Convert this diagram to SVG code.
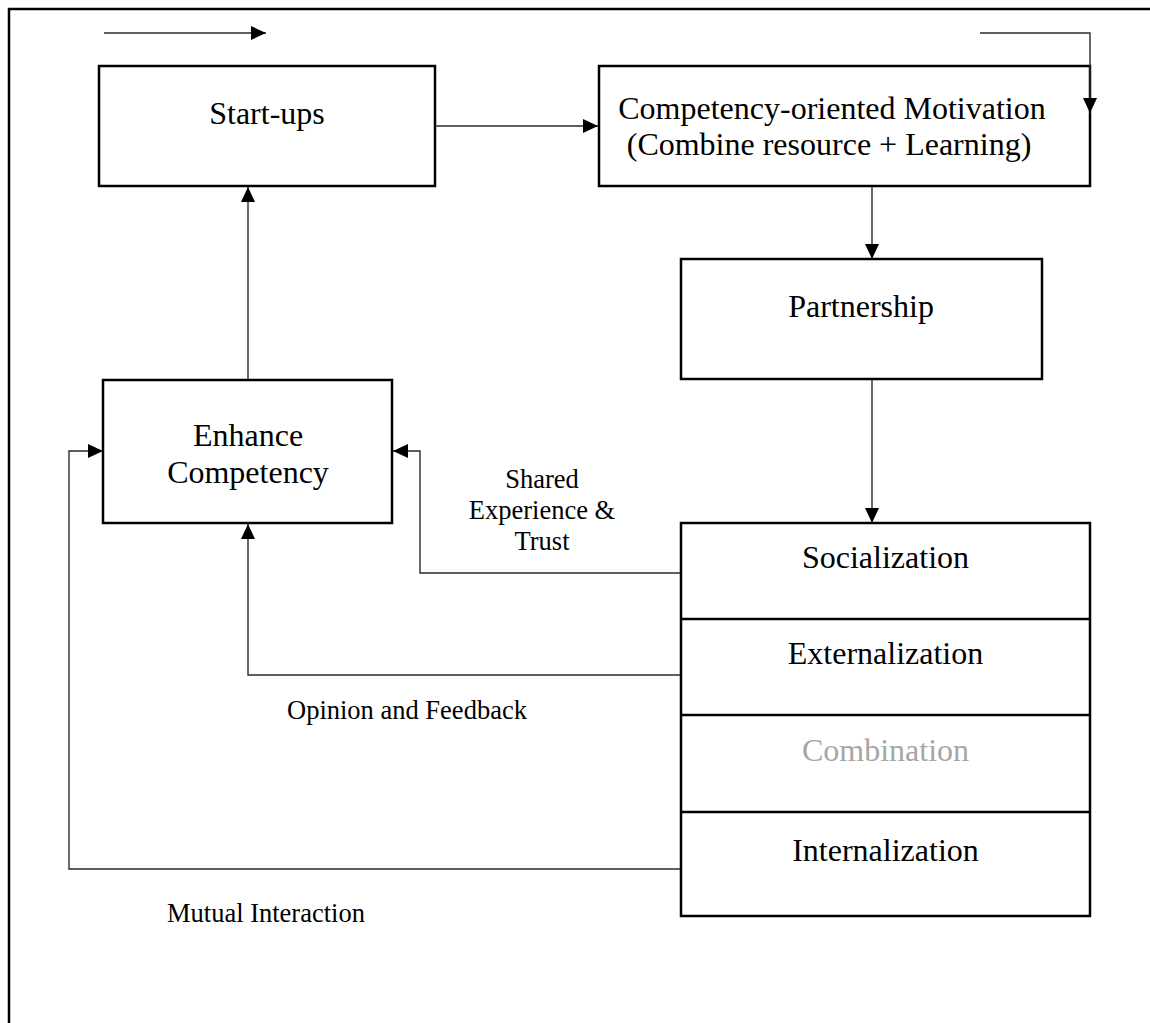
<svg xmlns="http://www.w3.org/2000/svg" width="1150" height="1023" viewBox="0 0 1150 1023">
  <style>
    .box { fill: #ffffff; stroke: #000000; stroke-width: 2.5; }
    .div { fill: none; stroke: #000000; stroke-width: 2.5; }
    .frame { fill: none; stroke: #000000; stroke-width: 2.5; }
    .link { fill: none; stroke: #2a2a2a; stroke-width: 1.4; }
    .big { font-family: "Liberation Serif", "Times New Roman", serif; font-size: 32px; fill: #000000; text-anchor: middle; }
    .small { font-family: "Liberation Serif", "Times New Roman", serif; font-size: 26.5px; fill: #000000; }
    .muted { fill: #a6a6a6; }
  </style>
  <defs>
    <marker id="head" markerUnits="userSpaceOnUse" markerWidth="16" markerHeight="14" refX="15" refY="7" orient="auto">
      <path d="M0,0 L15,7 L0,14 z" fill="#000000"/>
    </marker>
  </defs>

  <rect width="1150" height="1023" fill="#ffffff"/>

  <!-- page frame -->
  <path class="frame" d="M9,1023 L9,9 L1150,9"/>

  <g id="startups">
    <rect class="box" x="99" y="66" width="336" height="120"/>
    <text class="big" x="267" y="124">Start-ups</text>
  </g>

  <g id="motivation">
    <rect class="box" x="599" y="66" width="491" height="120"/>
    <text class="big" x="832" y="119">Competency-oriented Motivation</text>
    <text class="big" x="829" y="155">(Combine resource + Learning)</text>
  </g>

  <g id="partnership">
    <rect class="box" x="681" y="259" width="361" height="120"/>
    <text class="big" x="861" y="317">Partnership</text>
  </g>

  <g id="enhance">
    <rect class="box" x="103" y="380" width="289" height="143"/>
    <text class="big" x="248" y="446">Enhance</text>
    <text class="big" x="248" y="483">Competency</text>
  </g>

  <g id="seci">
    <rect class="box" x="681" y="523" width="409" height="393"/>
    <line class="div" x1="681" y1="619" x2="1090" y2="619"/>
    <line class="div" x1="681" y1="715" x2="1090" y2="715"/>
    <line class="div" x1="681" y1="812" x2="1090" y2="812"/>
    <text class="big" x="885.5" y="568">Socialization</text>
    <text class="big" x="885.5" y="664">Externalization</text>
    <text class="big muted" x="885.5" y="761">Combination</text>
    <text class="big" x="885.5" y="861">Internalization</text>
  </g>

  <!-- connectors, drawn over the box edges so every arrowhead shows -->
  <g id="connectors">
    <line class="link" x1="104" y1="33" x2="266" y2="33" marker-end="url(#head)"/>
    <path class="link" d="M980,33 L1090,33 L1090,113" marker-end="url(#head)"/>
    <line class="link" x1="435" y1="126" x2="598" y2="126" marker-end="url(#head)"/>
    <line class="link" x1="872" y1="187" x2="872" y2="259" marker-end="url(#head)"/>
    <line class="link" x1="872" y1="380" x2="872" y2="523" marker-end="url(#head)"/>
    <line class="link" x1="248" y1="379" x2="248" y2="187" marker-end="url(#head)"/>
    <path class="link" d="M680,573 L420,573 L420,451 L393,451" marker-end="url(#head)"/>
    <path class="link" d="M680,675 L248,675 L248,524" marker-end="url(#head)"/>
    <path class="link" d="M680,869 L69,869 L69,451 L103,451" marker-end="url(#head)"/>
  </g>

  <g id="labels">
    <text class="small" x="542" y="488" text-anchor="middle">Shared</text>
    <text class="small" x="542" y="519" text-anchor="middle">Experience &amp;</text>
    <text class="small" x="542" y="550" text-anchor="middle">Trust</text>
    <text class="small" x="287" y="719">Opinion and Feedback</text>
    <text class="small" x="167" y="922">Mutual Interaction</text>
  </g>
</svg>
